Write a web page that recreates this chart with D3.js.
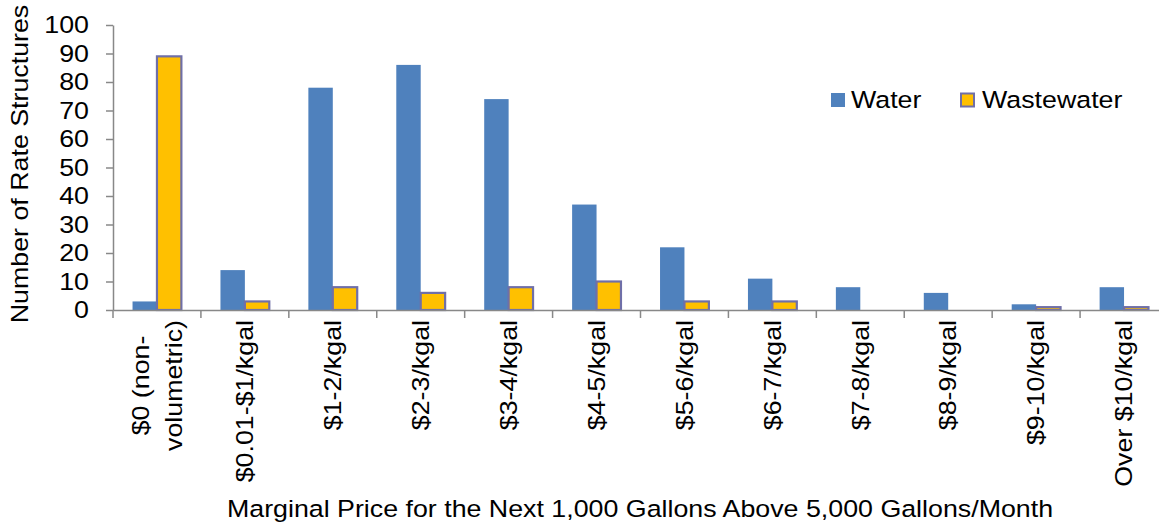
<!DOCTYPE html>
<html><head><meta charset="utf-8">
<script src="https://cdn.jsdelivr.net/npm/d3@7"></script>
<style>
html,body{margin:0;padding:0;background:#fff;}
svg{display:block;font-family:"Liberation Sans",Arial,sans-serif;}
</style></head>
<body>
<svg id="chart" width="1159" height="525"></svg>
<script>
const categories = ["$0 (non-volumetric)", "$0.01-$1/kgal", "$1-2/kgal", "$2-3/kgal", "$3-4/kgal", "$4-5/kgal", "$5-6/kgal", "$6-7/kgal", "$7-8/kgal", "$8-9/kgal", "$9-10/kgal", "Over $10/kgal"];
const categoryLines = [["$0 (non-", "volumetric)"], ["$0.01-$1/kgal"], ["$1-2/kgal"], ["$2-3/kgal"], ["$3-4/kgal"], ["$4-5/kgal"], ["$5-6/kgal"], ["$6-7/kgal"], ["$7-8/kgal"], ["$8-9/kgal"], ["$9-10/kgal"], ["Over $10/kgal"]];
const water = [3, 14, 78, 86, 74, 37, 22, 11, 8, 6, 2, 8];
const wastewater = [89, 3, 8, 6, 8, 10, 3, 3, 0, 0, 1, 1];
const seriesNames = ["Water", "Wastewater"];
const yTicks = [0, 10, 20, 30, 40, 50, 60, 70, 80, 90, 100];

(function () {
const svg = d3.select("#chart");
const mLeft = 113, mRight = 1168, mTop = 25, mBottom = 310;
const fs = 23.5;
const sx = 1.14; // horizontal stretch of the glyphs along the text direction
const axisColor = "#888888";
const waterFill = "#4F81BD";
const wwFill = "#FFC000", wwStroke = "#6F6FA8";

function label(parent, px, py, rot, anchor, txt, dy) {
  return parent.append("text")
    .attr("font-size", fs).attr("fill", "#000")
    .attr("text-anchor", anchor)
    .attr("dy", dy || null)
    .attr("transform", `translate(${px},${py})` + (rot ? ` rotate(${rot})` : "") + ` scale(${sx},1)`)
    .text(txt);
}

const x = d3.scaleBand().domain(categories).range([mLeft, mRight]).paddingInner(0).paddingOuter(0);
const xs = d3.scaleBand().domain(seriesNames).range([0, x.bandwidth()]).paddingInner(0).paddingOuter(0.8);
const y = d3.scaleLinear().domain([0, 100]).range([mBottom, mTop]);

// Y axis
const yAxis = svg.append("g").attr("transform", `translate(${mLeft},0)`)
  .call(d3.axisLeft(y).tickValues(yTicks).tickSize(7).tickFormat("").tickSizeOuter(0));
yAxis.select(".domain").attr("stroke", axisColor).attr("stroke-width", 1.5);
yAxis.selectAll(".tick line").attr("stroke", axisColor).attr("stroke-width", 1.5);
yAxis.selectAll(".tick text").remove();
const yLab = svg.append("g");
yTicks.forEach(v => label(yLab, 89, y(v), 0, "end", d3.format("d")(v), "0.35em"));

// Bars
const groups = svg.append("g").selectAll("g").data(categories).join("g")
  .attr("transform", d => `translate(${x(d)},0)`);
groups.append("rect")
  .attr("x", xs("Water"))
  .attr("width", xs.bandwidth())
  .attr("y", (d, i) => y(water[i]))
  .attr("height", (d, i) => y(0) - y(water[i]))
  .attr("fill", waterFill);
groups.append("rect")
  .attr("x", xs("Wastewater"))
  .attr("width", xs.bandwidth())
  .attr("y", (d, i) => y(wastewater[i]))
  .attr("height", (d, i) => y(0) - y(wastewater[i]))
  .attr("fill", wwFill)
  .attr("stroke", wwStroke)
  .attr("stroke-width", 2.2)
  .attr("display", (d, i) => wastewater[i] > 0 ? null : "none");

// X axis
const xAxis = svg.append("g").attr("transform", `translate(0,${mBottom})`)
  .call(d3.axisBottom(x).tickSize(0).tickFormat(""));
xAxis.select(".domain").attr("stroke", axisColor).attr("stroke-width", 1.5);
xAxis.selectAll(".tick").remove();
const bounds = categories.map(c => x(c)).concat([mRight]);
xAxis.selectAll("line.sep").data(bounds).join("line").attr("class", "sep")
  .attr("x1", d => d).attr("x2", d => d).attr("y1", 0).attr("y2", 8)
  .attr("stroke", axisColor).attr("stroke-width", 1.5);

// X tick labels (rotated)
const labelTop = 320;
const lh = 33;
categories.forEach((c, i) => {
  const lines = categoryLines[i];
  const cx = x(c) + x.bandwidth() / 2;
  const g = svg.append("g");
  if (lines.length === 1) {
    label(g, cx, labelTop, -90, "end", lines[0], "0.35em");
  } else {
    const lens = lines.map(ln => {
      const t = g.append("text").attr("font-size", fs).text(ln);
      const l = t.node().getComputedTextLength() * sx;
      t.remove();
      return l;
    });
    const cy = labelTop + d3.max(lens) / 2;
    lines.forEach((ln, j) => {
      const dx = (j - (lines.length - 1) / 2) * lh;
      label(g, cx + dx, cy, -90, "middle", ln, "0.35em");
    });
  }
});

// Axis titles
label(svg, 640, 517, 0, "middle", "Marginal Price for the Next 1,000 Gallons Above 5,000 Gallons/Month");
label(svg, 28, 164, -90, "middle", "Number of Rate Structures");

// Legend
const legend = svg.append("g");
legend.append("rect").attr("x", 831).attr("y", 93).attr("width", 14).attr("height", 14).attr("fill", waterFill);
label(legend, 851, 108, 0, "start", seriesNames[0]);
legend.append("rect").attr("x", 961).attr("y", 93.5).attr("width", 13).attr("height", 13).attr("fill", wwFill).attr("stroke", wwStroke).attr("stroke-width", 2);
label(legend, 982, 108, 0, "start", seriesNames[1]);
})();
</script>
</body></html>
